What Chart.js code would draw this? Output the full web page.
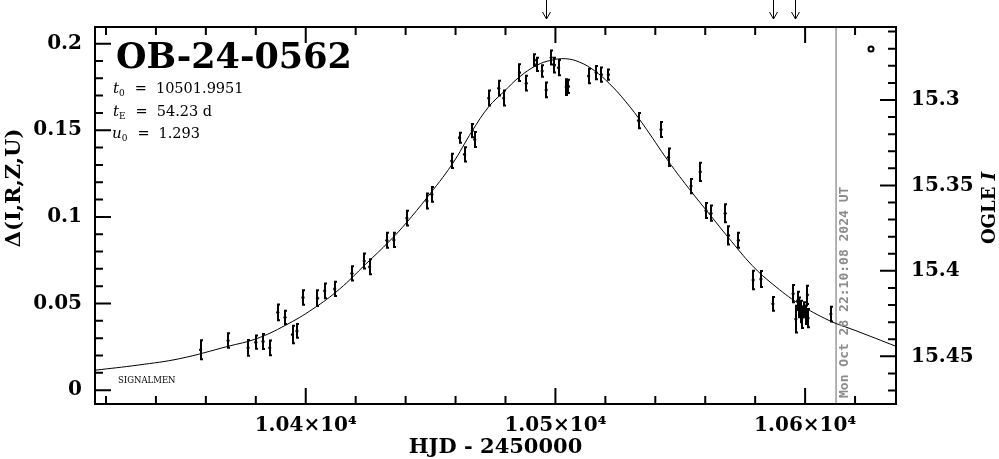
<!DOCTYPE html>
<html>
<head>
<meta charset="utf-8">
<script src="https://cdn.jsdelivr.net/npm/chart.js@4.4.1/dist/chart.umd.min.js"></script>
<style>
html, body { margin: 0; padding: 0; background: #fff; }
canvas { display: block; }
</style>
</head>
<body>
<canvas id="lc" width="999" height="459"></canvas>
<script>
// observed points: HJD-2450000, delta flux, error
const obsDay = [10357.9, 10368.9, 10376.9, 10380.0, 10382.9, 10385.6, 10388.8, 10391.7, 10394.7, 10396.5,
    10398.9, 10404.7, 10407.6, 10411.6, 10418.5, 10423.4, 10425.6, 10432.5, 10435.3, 10440.5,
    10448.5, 10450.5, 10458.5, 10461.6, 10463.6, 10466.7, 10467.7, 10473.3, 10477.3, 10479.3,
    10485.6, 10488.3, 10491.6, 10492.5, 10494.7, 10496.3, 10498.3, 10499.6, 10501.3, 10504.3,
    10505.2, 10513.3, 10516.3, 10518.4, 10521.2, 10533.3, 10542.3, 10545.3, 10554.3, 10558.0,
    10560.3, 10562.3, 10568.0, 10569.3, 10573.3, 10579.2, 10582.3, 10587.1, 10595.2, 10597.0,
    10596.3, 10597.6, 10598.3, 10598.9, 10599.6, 10600.3, 10600.9, 10601.2, 10610.3];
const obsDelta = [0.0233, 0.0286, 0.0244, 0.0277, 0.0281, 0.0244, 0.0449, 0.0420, 0.0321, 0.0342,
    0.0535, 0.0531, 0.0573, 0.0584, 0.0674, 0.0745, 0.0712, 0.0865, 0.0867, 0.0993,
    0.1092, 0.1130, 0.1323, 0.1457, 0.1361, 0.1498, 0.1447, 0.1686, 0.1743, 0.1686,
    0.1833, 0.1772, 0.1905, 0.1880, 0.1842, 0.1733, 0.1920, 0.1876, 0.1861, 0.1749,
    0.1753, 0.1813, 0.1833, 0.1821, 0.1821, 0.1556, 0.1504, 0.1344, 0.1178, 0.1260,
    0.1037, 0.1021, 0.1021, 0.0893, 0.0865, 0.0636, 0.0641, 0.0498, 0.0557, 0.0515,
    0.0410, 0.0477, 0.0454, 0.0420, 0.0464, 0.0435, 0.0550, 0.0416, 0.0439];
const obsErr = [0.0055, 0.0042, 0.0045, 0.0038, 0.0043, 0.0043, 0.0046, 0.0038, 0.0051, 0.0040,
    0.0042, 0.0045, 0.0042, 0.0041, 0.0041, 0.0043, 0.0043, 0.0043, 0.0041, 0.0043,
    0.0043, 0.0043, 0.0041, 0.0029, 0.0041, 0.0038, 0.0043, 0.0043, 0.0043, 0.0043,
    0.0048, 0.0043, 0.0033, 0.0038, 0.0033, 0.0043, 0.0041, 0.0043, 0.0044, 0.0046,
    0.0038, 0.0042, 0.0038, 0.0041, 0.0030, 0.0044, 0.0043, 0.0050, 0.0041, 0.0053,
    0.0043, 0.0044, 0.0052, 0.0053, 0.0043, 0.0053, 0.0046, 0.0040, 0.0050, 0.0053,
    0.0077, 0.0057, 0.0062, 0.0062, 0.0043, 0.0053, 0.0053, 0.0053, 0.0043];

// model curve
const modelDay = [10315.6, 10333.0, 10349.6, 10368.9, 10380.3, 10391.7, 10402.9, 10413.6, 10424.0, 10433.6,
    10440.3, 10448.5, 10458.5, 10466.7, 10473.3, 10479.3, 10485.6, 10492.5, 10498.3, 10504.0,
    10509.7, 10515.5, 10521.5, 10528.0, 10535.0, 10545.3, 10554.3, 10562.3, 10569.3, 10578.9,
    10586.9, 10597.6, 10609.6, 10620.0, 10636.4];
const modelDelta = [0.0115, 0.0145, 0.0182, 0.0253, 0.0297, 0.0373, 0.0469, 0.0584, 0.0727, 0.0861,
    0.0966, 0.1110, 0.1301, 0.1497, 0.1636, 0.1722, 0.1808, 0.1875, 0.1904, 0.1913,
    0.1893, 0.1845, 0.1771, 0.1668, 0.1536, 0.1320, 0.1148, 0.1005, 0.0880, 0.0718,
    0.0613, 0.0498, 0.0402, 0.0345, 0.0253];

const xMajor = [10400, 10500, 10600];
const xLabels = ['1.04×10⁴', '1.05×10⁴', '1.06×10⁴'];
const yMajor = [0, 0.05, 0.1, 0.15, 0.2];
const yLabels = ['0', '0.05', '0.1', '0.15', '0.2'];
const magMajor = [15.3, 15.35, 15.4, 15.45];
const magLabels = ['15.3', '15.35', '15.4', '15.45'];

const arrowDays = [10496.4, 10587.2, 10596.0];
const nowDay = 10612.4;
const nowText = 'Mon Oct 28 22:10:08 2024 UT';
const eventName = 'OB-24-0562';

const serif = "'DejaVu Serif', serif";

// minor tick positions
const xMinor = [];
for (let v = 10320; v <= 10636; v += 20) xMinor.push(v);
const yMinor = [];
for (let k = 0; k <= 20; k++) yMinor.push(k / 100);
const magMinor = [];
for (let k = 26; k <= 47; k++) magMinor.push(k / 100 + 15);

function sub(ctx, parts, x, y) {
    // parts: [text, font, dy, extra gap]
    let cx = x;
    parts.forEach(p => {
        ctx.font = p[1];
        ctx.fillText(p[0], cx, y + (p[2] || 0));
        cx += ctx.measureText(p[0]).width + (p[3] || 0);
    });
}

const overlay = {
    id: 'overlay',
    beforeDatasetsDraw(chart) {
        const ctx = chart.ctx, a = chart.chartArea;
        const px = chart.scales.x.getPixelForValue(nowDay);
        ctx.save();
        ctx.strokeStyle = '#9a9a9a';
        ctx.lineWidth = 1.5;
        ctx.beginPath();
        ctx.moveTo(px, a.top);
        ctx.lineTo(px, a.bottom);
        ctx.stroke();
        ctx.restore();
    },
    afterDatasetsDraw(chart) {
        const ctx = chart.ctx, a = chart.chartArea;
        const xs = chart.scales.x, ys = chart.scales.y;
        ctx.save();
        ctx.beginPath();
        ctx.rect(a.left, a.top, a.right - a.left, a.bottom - a.top);
        ctx.clip();
        ctx.strokeStyle = '#000';
        ctx.lineWidth = 2;
        obsDay.forEach((d, i) => {
            const px = Math.round(xs.getPixelForValue(d));
            const y1 = ys.getPixelForValue(obsDelta[i] - obsErr[i]);
            const y2 = ys.getPixelForValue(obsDelta[i] + obsErr[i]);
            ctx.beginPath();
            ctx.moveTo(px, y1);
            ctx.lineTo(px, y2);
            ctx.moveTo(px - 1, y1);
            ctx.lineTo(px + 2, y1);
            ctx.moveTo(px - 1, y2);
            ctx.lineTo(px + 2, y2);
            ctx.stroke();
        });
        ctx.restore();
    },
    afterDraw(chart) {
        const ctx = chart.ctx, a = chart.chartArea;
        const xs = chart.scales.x, ys = chart.scales.y, ms = chart.scales.yR;
        ctx.save();
        ctx.strokeStyle = '#000';
        ctx.fillStyle = '#000';
        ctx.lineWidth = 2;
        ctx.strokeRect(a.left, a.top, a.right - a.left, a.bottom - a.top);

        // inward ticks
        ctx.beginPath();
        const tickX = (v, len) => {
            const p = xs.getPixelForValue(v);
            ctx.moveTo(p, a.bottom); ctx.lineTo(p, a.bottom - len);
            ctx.moveTo(p, a.top); ctx.lineTo(p, a.top + len);
        };
        xMinor.forEach(v => tickX(v, 8));
        xMajor.forEach(v => tickX(v, 16));
        const tickY = (v, len) => {
            const p = ys.getPixelForValue(v);
            ctx.moveTo(a.left, p); ctx.lineTo(a.left + len, p);
        };
        yMinor.forEach(v => tickY(v, 8));
        yMajor.forEach(v => tickY(v, 16));
        const tickM = (v, len) => {
            const p = ms.getPixelForValue(v);
            ctx.moveTo(a.right, p); ctx.lineTo(a.right - len, p);
        };
        magMinor.forEach(v => tickM(v, 8));
        magMajor.forEach(v => tickM(v, 16));
        ctx.stroke();

        // arrows above the frame
        ctx.lineWidth = 1;
        arrowDays.forEach(d => {
            const p = Math.round(xs.getPixelForValue(d)) + 0.5;
            ctx.beginPath();
            ctx.moveTo(p, 0);
            ctx.lineTo(p, 19);
            ctx.moveTo(p - 4, 12);
            ctx.lineTo(p, 19);
            ctx.lineTo(p + 4, 12);
            ctx.stroke();
        });

        // symbol key, top right
        ctx.lineWidth = 2;
        ctx.beginPath();
        ctx.arc(a.right - 25, a.top + 22, 2.5, 0, Math.PI * 2);
        ctx.stroke();

        // date text next to the gray line
        const nx = xs.getPixelForValue(nowDay);
        ctx.save();
        ctx.translate(nx + 12, a.bottom - 6);
        ctx.rotate(-Math.PI / 2);
        ctx.fillStyle = '#8c8c8c';
        ctx.font = "bold 13px 'DejaVu Sans Mono', monospace";
        ctx.textAlign = 'left';
        ctx.textBaseline = 'alphabetic';
        ctx.fillText(nowText, 0, 0);
        ctx.restore();

        // title and parameters
        ctx.textAlign = 'left';
        ctx.textBaseline = 'alphabetic';
        ctx.font = 'bold 35px ' + serif;
        ctx.fillText(eventName, 116, 68);
        const it = 'italic 15px ' + serif, rm = '14.5px ' + serif, sm = '9px ' + serif;
        sub(ctx, [['t', it], ['0', sm, 3, 10], ['=', rm, 0, 9], ['10501.9951', rm]], 113, 93);
        sub(ctx, [['t', it], ['E', sm, 3, 10], ['=', rm, 0, 9], ['54.23 d', rm]], 113, 116);
        sub(ctx, [['u', it], ['0', sm, 3, 10], ['=', rm, 0, 9], ['1.293', rm]], 112, 138);
        ctx.font = '8.5px ' + serif;
        ctx.fillText('SIGNALMEN', 118, 383);

        // axis titles
        ctx.font = 'bold 21px ' + serif;
        ctx.textAlign = 'center';
        ctx.textBaseline = 'middle';
        ctx.fillText('HJD - 2450000', (a.left + a.right) / 2, 448);
        ctx.save();
        ctx.translate(15, 188);
        ctx.rotate(-Math.PI / 2);
        ctx.fillText('Δ(I,R,Z,U)', 0, 0);
        ctx.restore();

        ctx.save();
        ctx.translate(990, 208);
        ctx.rotate(-Math.PI / 2);
        ctx.textAlign = 'left';
        const f1 = 'bold 18px ' + serif, f2 = 'italic bold 18px ' + serif;
        ctx.font = f1;
        const w1 = ctx.measureText('OGLE ').width;
        ctx.font = f2;
        const w2 = ctx.measureText('I').width;
        ctx.font = f1;
        ctx.fillText('OGLE ', -(w1 + w2) / 2, 0);
        ctx.font = f2;
        ctx.fillText('I', -(w1 + w2) / 2 + w1, 0);
        ctx.restore();

        ctx.restore();
    }
};

const tickFont = { family: serif, size: 20, weight: 'bold' };

new Chart(document.getElementById('lc'), {
    type: 'scatter',
    data: {
        datasets: [{
            type: 'line',
            data: modelDay.map((d, i) => ({ x: d, y: modelDelta[i] })),
            borderColor: '#000',
            borderWidth: 1,
            pointRadius: 0,
            fill: false,
            tension: 0.4,
            yAxisID: 'y'
        }, {
            type: 'scatter',
            data: obsDay.map((d, i) => ({ x: d, y: obsDelta[i] })),
            pointRadius: 1.6,
            backgroundColor: '#000',
            borderWidth: 0,
            yAxisID: 'y'
        }]
    },
    options: {
        responsive: false,
        animation: false,
        devicePixelRatio: 1,
        layout: { padding: { top: 25, left: 0, right: 0, bottom: 0 } },
        plugins: { legend: { display: false }, tooltip: { enabled: false } },
        scales: {
            x: {
                type: 'linear',
                position: 'bottom',
                min: 10315.6,
                max: 10636.4,
                grid: { display: false, drawTicks: false },
                border: { display: false },
                ticks: {
                    font: tickFont, color: '#000', padding: 10, maxRotation: 0, autoSkip: false,
                    callback: v => xLabels[xMajor.indexOf(v)]
                },
                afterBuildTicks: s => { s.ticks = xMajor.map(v => ({ value: v })); },
                afterFit: s => { s.height = 55; }
            },
            y: {
                type: 'linear',
                position: 'left',
                min: -0.008,
                max: 0.2096,
                grid: { display: false, drawTicks: false },
                border: { display: false },
                ticks: {
                    font: tickFont, color: '#000', padding: 13, autoSkip: false,
                    callback: v => yLabels[yMajor.indexOf(v)]
                },
                afterBuildTicks: s => { s.ticks = yMajor.map(v => ({ value: v })); },
                afterFit: s => { s.width = 95; }
            },
            yR: {
                type: 'linear',
                position: 'right',
                reverse: true,
                min: 15.2573,
                max: 15.4779,
                grid: { display: false, drawTicks: false },
                border: { display: false },
                ticks: {
                    font: tickFont, color: '#000', padding: 15, autoSkip: false,
                    callback: v => magLabels[magMajor.indexOf(v)]
                },
                afterBuildTicks: s => { s.ticks = magMajor.map(v => ({ value: v })); },
                afterFit: s => { s.width = 103; }
            }
        }
    },
    plugins: [overlay]
});
</script>
</body>
</html>
